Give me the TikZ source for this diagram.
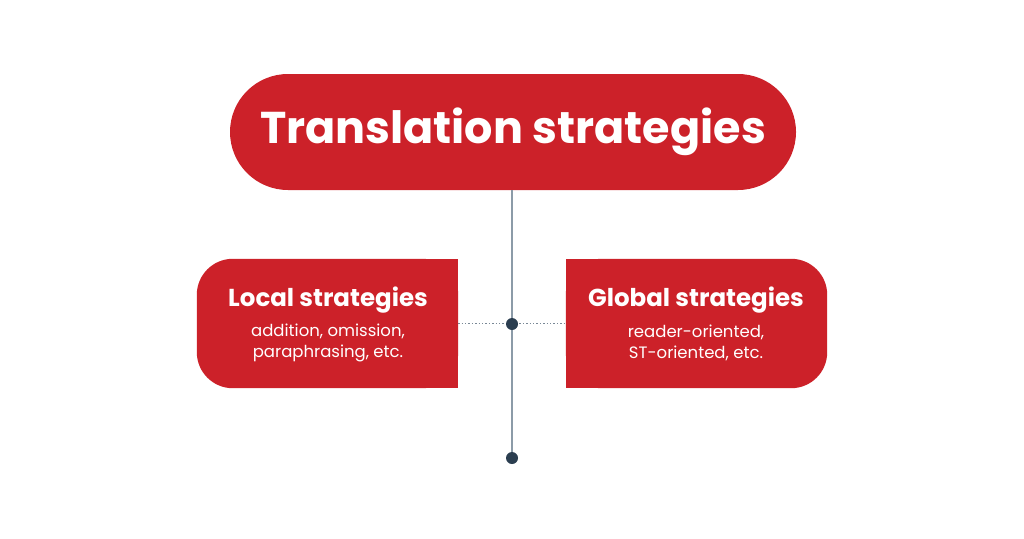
\documentclass[tikz,border=0pt]{standalone}
\usepackage{fontspec}
\setmainfont{Poppins}
\usetikzlibrary{positioning}
\definecolor{tsred}{HTML}{CC2129}
\definecolor{tsline}{HTML}{8C9BA8}
\definecolor{tsdot}{HTML}{2B3E50}
\tikzset{
  box/.style={minimum width=261pt, minimum height=129pt, inner sep=0pt},
  boxhead/.style={anchor=base, text=white, font=\bfseries\fontsize{24.5}{28}\selectfont},
  boxbody/.style={align=center, text=white, font=\fontsize{16.5}{21}\selectfont},
  dot/.style={circle, fill=tsdot, inner sep=0pt, minimum size=12pt}
}

\begin{document}
\begin{tikzpicture}[x=1pt, y=-1pt]
\useasboundingbox (0,0) rectangle (1024,538);
\node (TS) [fill=tsred, rounded corners=58pt, minimum width=566pt, minimum height=116pt, text=white,
  font=\bfseries\fontsize{44.5}{54}\selectfont] at (513,132) {Translation strategies};
\node (L) [box] at (327.5,323.5) {};
\node (G) [box] at (696.5,323.5) {};
\fill [tsred, rounded corners=36pt] (L.north west) rectangle (L.south east);
\fill [tsred] (L.north) rectangle (L.south east);
\fill [tsred, rounded corners=36pt] (G.north west) rectangle (G.south east);
\fill [tsred] (G.north west) rectangle (G.south);
\node (Lh) [boxhead] at (328,306) {Local strategies};
\node (Lb) [boxbody] at (328,343) {addition, omission,\\paraphrasing, etc.};
\node (Gh) [boxhead] at (696,306) {Global strategies};
\node (Gb) [boxbody] at (696,343) {reader-oriented,\\ST-oriented, etc.};
\coordinate (hub) at (512,324);
\coordinate (end) at (512,458);

\path [draw, tsline, line width=1.6pt] (TS.south -| hub) -- (end);
\path [draw, tsline!80!tsdot, line width=1.4pt, dotted] (L.east) -- (G.west);
\node [dot] at (hub) {};
\node [dot] at (end) {};
\end{tikzpicture}
\end{document}
